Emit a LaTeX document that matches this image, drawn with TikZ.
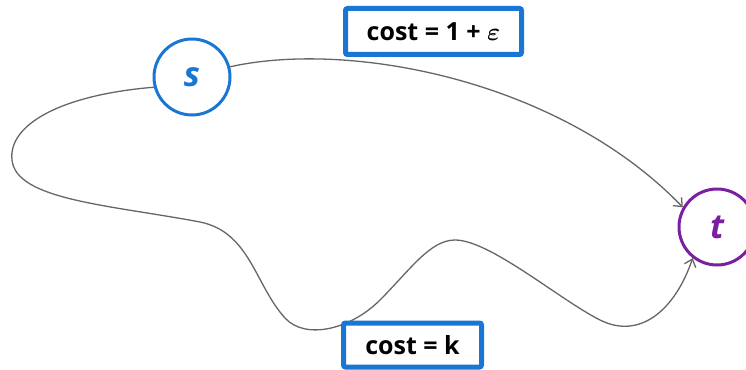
\documentclass[tikz,border=0pt]{standalone}
\usepackage{fontspec}
\setmainfont{Open Sans}
\usetikzlibrary{arrows.meta}
\definecolor{sblue}{HTML}{1976D2}
\definecolor{tpurple}{HTML}{7B1FA2}
\definecolor{edgegray}{HTML}{666666}
\tikzset{
  vert/.style={circle, line width=3pt, minimum size=76pt, inner sep=0pt, fill=white, font=\fontsize{34}{34}\selectfont\bfseries\itshape},
  costbox/.style={draw=sblue, line width=5pt, fill=white, rounded corners=2pt, inner sep=0pt, font=\fontsize{25}{25}\selectfont\bfseries\boldmath},
  edge/.style={draw=edgegray, line width=1.3pt, -{Straight Barb[length=7pt,width=12pt,line width=1.3pt]}}
}
\begin{document}
\begin{tikzpicture}[x=1pt,y=-1pt]
\useasboundingbox (0,0) rectangle (746,369);
\node[vert, draw=sblue, text=sblue] (s) at (192,77) {s};
\node[vert, draw=tpurple, text=tpurple] (t) at (717,227) {t};
\coordinate (l1) at (12,160);
\coordinate (l2) at (200,222);
\coordinate (l3) at (285,318);
\coordinate (l4) at (380,300);
\coordinate (l5) at (455,240);
\coordinate (l6) at (600,320);
\draw[edge] (s.15) .. controls (350,40) and (560,80) .. (t.150);
\draw[edge] (s.195) .. controls (60,95) and (8,125) .. (l1)
  .. controls (16,200) and (110,205) .. (l2)
  .. controls (250,232) and (255,285) .. (l3)
  .. controls (305,340) and (350,330) .. (l4)
  .. controls (410,270) and (430,240) .. (l5)
  .. controls (490,240) and (560,300) .. (l6)
  .. controls (640,340) and (675,310) .. (t.232);
\node[costbox, minimum width=176pt, minimum height=46pt] (c1) at (433.5,31.5) {cost = 1 + $\varepsilon$};
\node[costbox, minimum width=138pt, minimum height=44pt] (c2) at (412.5,345) {cost = k};
\end{tikzpicture}
\end{document}
